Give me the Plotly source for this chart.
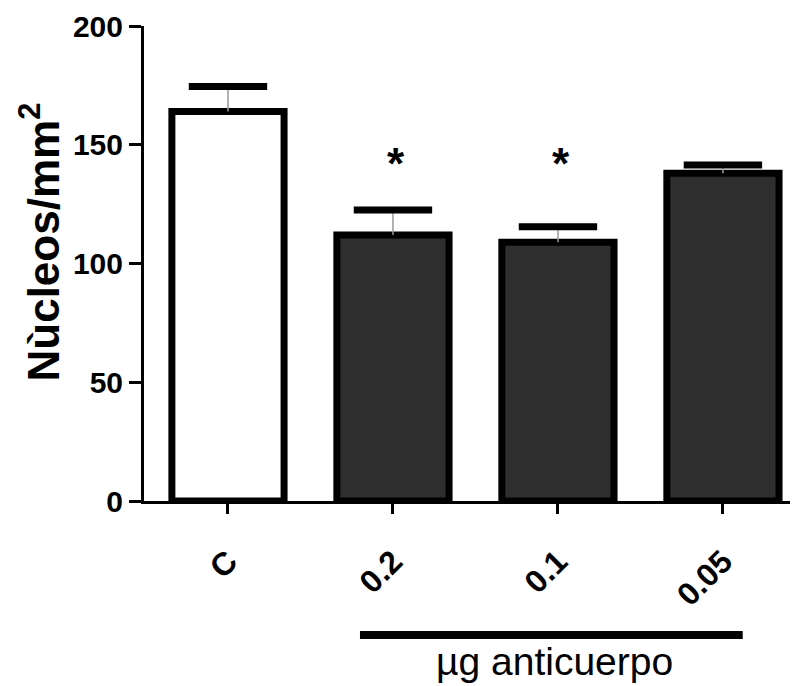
import plotly.graph_objects as go

categories = ["C", "0.2", "0.1", "0.05"]
means = [164, 112, 109, 138]
sem = [10.5, 10.5, 6.5, 3.5]
fills = ["#ffffff", "#2e2e2e", "#2e2e2e", "#2e2e2e"]
significant = [False, True, True, False]
star_level = 142
y_ticks = [0, 50, 100, 150, 200]

FONT = "Liberation Sans, Arial, sans-serif"
PAGE_OFFSET = 8  # default body margin of the html page
W, H = 798 - PAGE_OFFSET, 686 - PAGE_OFFSET
ML, MT, PH = 144 - PAGE_OFFSET, 26 - PAGE_OFFSET, 475
MB = H - MT - PH

fig = go.Figure()
fig.add_trace(go.Bar(
    x=categories, y=means, width=0.68,
    marker=dict(color=fills, line=dict(color="black", width=7)),
    error_y=dict(type="data", array=sem, arrayminus=[0] * len(sem), symmetric=False,
                 color="#9a9a9a", thickness=1.5, width=0),
    showlegend=False,
))
# thick caps of the error bars
fig.add_trace(go.Scatter(
    x=categories, y=[m + s for m, s in zip(means, sem)], mode="markers",
    marker=dict(symbol="line-ew", size=56, line=dict(color="black", width=7)),
    showlegend=False, hoverinfo="skip",
))

# significance asterisks
for i, sig in enumerate(significant):
    if sig:
        fig.add_annotation(x=i, y=star_level, xref="x", yref="y", text="<b>*</b>",
                           showarrow=False, xshift=3,
                           font=dict(family=FONT, size=44, color="black"),
                           yanchor="middle")

# group line under the dose labels
i0 = categories.index("0.2")
i1 = categories.index("0.05")
fig.add_shape(type="line", xref="x", yref="paper", x0=i0 - 0.2, x1=i1 + 0.12,
              y0=-0.282, y1=-0.282, line=dict(color="black", width=8))
fig.add_annotation(x=(i0 + i1) / 2 - 0.02, y=-0.337, xref="x", yref="paper",
                   text="µg anticuerpo", showarrow=False,
                   font=dict(family=FONT, size=39, color="black"), yanchor="middle")

# y-axis title
fig.add_annotation(x=-0.16, y=0.545, xref="paper", yref="paper",
                   text="<b>Nùcleos/mm<sup>2</sup></b>", textangle=-90, showarrow=False,
                   font=dict(family=FONT, size=44, color="black"),
                   xanchor="center", yanchor="middle")

fig.update_layout(
    width=W, height=H,
    margin=dict(l=ML, r=0, t=MT, b=MB),
    plot_bgcolor="white", paper_bgcolor="white",
    font=dict(family=FONT, color="black"),
    bargap=0.3,
)
fig.update_xaxes(
    type="category", range=[-0.509, 3.455], automargin=False,
    showline=True, linecolor="black", linewidth=3,
    ticks="outside", ticklen=10, tickwidth=3, tickcolor="black",
    tickangle=-45, ticklabelstandoff=16,
    tickfont=dict(family=FONT, size=32, color="black", weight="bold"),
    showgrid=False, zeroline=False,
)
fig.update_yaxes(
    range=[0, 200], tickvals=y_ticks, automargin=False,
    showline=True, linecolor="black", linewidth=3,
    ticks="outside", ticklen=12, tickwidth=3, tickcolor="black",
    tickfont=dict(family=FONT, size=30, color="black", weight="bold"),
    showgrid=False, zeroline=False,
)

fig.write_html("out.html")
